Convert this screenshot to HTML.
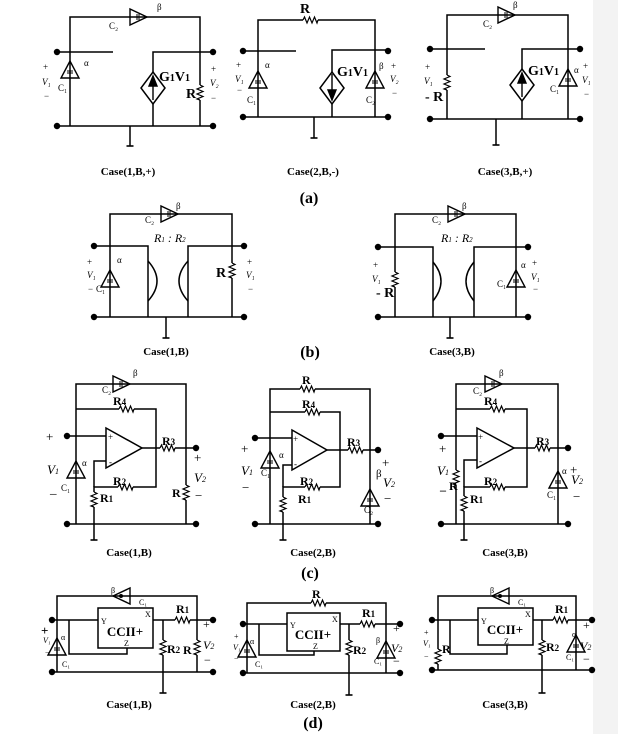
<!DOCTYPE html>
<html><head><meta charset="utf-8"><style>
html,body{margin:0;padding:0;background:#fff}
svg{display:block}
text{font-family:"Liberation Serif",serif;fill:#000}
.b{font-weight:bold}
</style></head><body>
<svg width="618" height="734" viewBox="0 0 618 734" xmlns="http://www.w3.org/2000/svg">
<defs>
<g id="rv"><rect x="-4" y="0" width="8" height="15" fill="#fff"/><polyline points="0,0 3,1.5 -3,4 3,6.5 -3,9 3,11.5 -3,14 0,15" fill="none" stroke="#000" stroke-width="1.2"/></g>
<g id="rh"><rect x="0" y="-4" width="15" height="8" fill="#fff"/><polyline points="0,0 1.5,-3 4,3 6.5,-3 9,3 11.5,-3 14,3 15,0" fill="none" stroke="#000" stroke-width="1.2"/></g>
<circle id="dot" r="3.2" fill="#000"/>
<g id="tu"><polygon points="0,0 -9,17 9,17" fill="none" stroke="#000" stroke-width="1.4"/><line x1="-3" y1="10" x2="3" y2="10" stroke="#000"/><line x1="-3" y1="12" x2="3" y2="12" stroke="#000"/></g>
<g id="tr"><polygon points="0,0 -17,-8 -17,8" fill="none" stroke="#000" stroke-width="1.4"/><line x1="-10" y1="-3" x2="-10" y2="3" stroke="#000"/><line x1="-8" y1="-3" x2="-8" y2="3" stroke="#000"/></g>
<g id="tl"><polygon points="0,0 17,-8 17,8" fill="none" stroke="#000" stroke-width="1.4"/><circle cx="8" cy="0" r="2" fill="#000"/></g>
<line id="gl" x1="-3.5" y1="0" x2="3.5" y2="0" stroke="#000" stroke-width="1.6"/>
</defs>
<rect x="593" y="0" width="25" height="734" fill="#f3f3f3"/>
<g stroke="#000" stroke-width="1.5" fill="none">
<polyline points="70,126 70,17 200,17 200,126"/>
<line x1="57" y1="52" x2="113" y2="52"/>
<polyline points="153,126 153,52 213,52"/>
<line x1="57" y1="126" x2="213" y2="126"/>
<line x1="130" y1="126" x2="130" y2="146"/>
<polygon points="153,72 165,88 153,104 141,88" fill="#fff"/>
<polyline points="258,117 258,20 375,20 375,117"/>
<line x1="243" y1="51" x2="296" y2="51"/>
<polyline points="332,117 332,50 388,50"/>
<line x1="243" y1="117" x2="388" y2="117"/>
<line x1="314" y1="117" x2="314" y2="138"/>
<polygon points="332,72 344,88 332,104 320,88" fill="#fff"/>
<polyline points="447,119 447,15 568,15 568,119"/>
<line x1="430" y1="49" x2="485" y2="49"/>
<polyline points="522,119 522,49 580,49"/>
<line x1="430" y1="119" x2="580" y2="119"/>
<line x1="496" y1="119" x2="496" y2="145"/>
<polygon points="522,69 534,85 522,101 510,85" fill="#fff"/>
<polyline points="110,317 110,214 232,214 232,317"/>
<polyline points="94,246 148,246 148,317"/>
<polyline points="244,246 188,246 188,317"/>
<line x1="94" y1="317" x2="244" y2="317"/>
<path d="M148,261 Q166,281 148,301"/>
<path d="M188,261 Q170,281 188,301"/>
<line x1="166" y1="317" x2="166" y2="338"/>
<polyline points="395,317 395,214 516,214 516,317"/>
<polyline points="378,247 433,247 433,317"/>
<polyline points="528,247 474,247 474,317"/>
<line x1="378" y1="317" x2="528" y2="317"/>
<path d="M433,262 Q449,281 433,301"/>
<path d="M474,262 Q458,281 474,301"/>
<line x1="450" y1="317" x2="450" y2="338"/>
<polyline points="76,524 76,384 186,384 186,524"/>
<polyline points="76,409 156,409 156,487 94,487 94,540"/>
<line x1="67" y1="436" x2="106" y2="436"/>
<polyline points="106,461 94,461 94,487"/>
<polygon points="106,428 142,448 106,468" fill="#fff"/>
<line x1="142" y1="448" x2="196" y2="448"/>
<line x1="67" y1="524" x2="196" y2="524"/>
<polyline points="270,524 270,389 370,389 370,524"/>
<polyline points="270,412 340,412 340,487 283,487 283,540"/>
<line x1="255" y1="438" x2="292" y2="438"/>
<polyline points="292,465 283,465 283,487"/>
<polygon points="292,430 327,450 292,470" fill="#fff"/>
<line x1="327" y1="450" x2="378" y2="450"/>
<line x1="255" y1="524" x2="378" y2="524"/>
<polyline points="456,524 456,384 558,384 558,524"/>
<polyline points="456,409 527,409 527,487 464,487 464,540"/>
<line x1="441" y1="436" x2="477" y2="436"/>
<polyline points="477,460 464,460 464,487"/>
<polygon points="477,428 514,448 477,468" fill="#fff"/>
<line x1="514" y1="448" x2="568" y2="448"/>
<line x1="441" y1="524" x2="568" y2="524"/>
<polyline points="57,672 57,596 197,596 197,672"/>
<rect x="98" y="608" width="55" height="40"/>
<line x1="52" y1="620" x2="98" y2="620"/>
<polyline points="69,620 69,654 127,654 127,648"/>
<line x1="153" y1="620" x2="213" y2="620"/>
<line x1="163" y1="620" x2="163" y2="693"/>
<line x1="52" y1="672" x2="213" y2="672"/>
<polyline points="247,673 247,603 386,603 386,673"/>
<rect x="287" y="613" width="53" height="38"/>
<line x1="243" y1="624" x2="287" y2="624"/>
<polyline points="259,624 259,655 314,655 314,651"/>
<line x1="340" y1="624" x2="400" y2="624"/>
<line x1="349" y1="624" x2="349" y2="695"/>
<line x1="243" y1="673" x2="400" y2="673"/>
<polyline points="438,670 438,596 576,596 576,670"/>
<rect x="478" y="608" width="55" height="37"/>
<line x1="432" y1="620" x2="478" y2="620"/>
<polyline points="450,620 450,654 507,654 507,645"/>
<line x1="533" y1="620" x2="592" y2="620"/>
<line x1="542" y1="620" x2="542" y2="693"/>
<line x1="432" y1="670" x2="592" y2="670"/>
</g>
<g fill="#000" stroke="#000" stroke-width="1.4">
<line x1="153" y1="80" x2="153" y2="100"/><polygon points="153,76 149,86 157,86"/>
<line x1="332" y1="74" x2="332" y2="94"/><polygon points="332,100 328,90 336,90"/>
<line x1="522" y1="75" x2="522" y2="97"/><polygon points="522,73 518,83 526,83"/>
</g>
<use href="#tr" x="147" y="17"/><use href="#tu" x="70" y="61"/><use href="#rv" x="200" y="85"/>
<use href="#rh" x="303" y="20"/><use href="#tu" x="258" y="71"/><use href="#tu" x="375" y="71"/>
<use href="#tr" x="515" y="15"/><use href="#rv" x="447" y="75"/><use href="#tu" x="568" y="69"/>
<use href="#tr" x="178" y="214"/><use href="#tu" x="110" y="270"/><use href="#rv" x="232" y="263"/>
<use href="#tr" x="465" y="214"/><use href="#rv" x="395" y="272"/><use href="#tu" x="516" y="270"/>
<use href="#tr" x="130" y="384"/><use href="#rh" x="119" y="409"/><use href="#rh" x="118" y="487"/><use href="#rv" x="94" y="492"/><use href="#rh" x="160" y="448"/><use href="#rv" x="186" y="485"/><use href="#tu" x="76" y="461"/>
<use href="#rh" x="300" y="389"/><use href="#rh" x="305" y="412"/><use href="#rh" x="305" y="487"/><use href="#rv" x="283" y="497"/><use href="#rh" x="348" y="450"/><use href="#tu" x="270" y="451"/><use href="#tu" x="370" y="489"/>
<use href="#tr" x="502" y="384"/><use href="#rh" x="490" y="409"/><use href="#rh" x="490" y="487"/><use href="#rv" x="464" y="496"/><use href="#rh" x="535" y="448"/><use href="#rv" x="456" y="470"/><use href="#tu" x="558" y="471"/>
<use href="#tl" x="113" y="596"/><use href="#rh" x="175" y="620"/><use href="#rv" x="163" y="640"/><use href="#rv" x="197" y="640"/><use href="#tu" x="57" y="638"/>
<use href="#rh" x="311" y="603"/><use href="#rh" x="360" y="624"/><use href="#rv" x="349" y="640"/><use href="#tu" x="247" y="640"/><use href="#tu" x="386" y="641"/>
<use href="#tl" x="492" y="596"/><use href="#rh" x="553" y="620"/><use href="#rv" x="542" y="640"/><use href="#rv" x="438" y="649"/><use href="#tu" x="576" y="635"/>
<use href="#gl" x="130" y="146"/><use href="#gl" x="314" y="138"/><use href="#gl" x="496" y="145"/><use href="#gl" x="166" y="338"/><use href="#gl" x="450" y="338"/><use href="#gl" x="94" y="540"/><use href="#gl" x="283" y="540"/><use href="#gl" x="464" y="540"/><use href="#gl" x="163" y="693"/><use href="#gl" x="349" y="695"/><use href="#gl" x="542" y="693"/>
<use href="#dot" x="57" y="52"/><use href="#dot" x="213" y="52"/><use href="#dot" x="57" y="126"/><use href="#dot" x="213" y="126"/>
<use href="#dot" x="243" y="51"/><use href="#dot" x="388" y="51"/><use href="#dot" x="243" y="117"/><use href="#dot" x="388" y="117"/>
<use href="#dot" x="430" y="49"/><use href="#dot" x="580" y="49"/><use href="#dot" x="430" y="119"/><use href="#dot" x="580" y="119"/>
<use href="#dot" x="94" y="246"/><use href="#dot" x="244" y="246"/><use href="#dot" x="94" y="317"/><use href="#dot" x="244" y="317"/>
<use href="#dot" x="378" y="247"/><use href="#dot" x="528" y="247"/><use href="#dot" x="378" y="317"/><use href="#dot" x="528" y="317"/>
<use href="#dot" x="67" y="436"/><use href="#dot" x="196" y="448"/><use href="#dot" x="67" y="524"/><use href="#dot" x="196" y="524"/>
<use href="#dot" x="255" y="438"/><use href="#dot" x="378" y="450"/><use href="#dot" x="255" y="524"/><use href="#dot" x="378" y="524"/>
<use href="#dot" x="441" y="436"/><use href="#dot" x="568" y="448"/><use href="#dot" x="441" y="524"/><use href="#dot" x="568" y="524"/>
<use href="#dot" x="52" y="620"/><use href="#dot" x="213" y="620"/><use href="#dot" x="52" y="672"/><use href="#dot" x="213" y="672"/>
<use href="#dot" x="243" y="624"/><use href="#dot" x="400" y="624"/><use href="#dot" x="243" y="673"/><use href="#dot" x="400" y="673"/>
<use href="#dot" x="432" y="620"/><use href="#dot" x="592" y="620"/><use href="#dot" x="432" y="670"/><use href="#dot" x="592" y="670"/>
<g font-size="9">
<text x="157" y="10">β</text><text x="109" y="29">C₂</text><text x="84" y="66">α</text><text x="58" y="91">C₁</text>
<text x="43" y="70">+</text><text x="42" y="85" font-style="italic">V₁</text><text x="44" y="99">−</text>
<text x="211" y="72">+</text><text x="210" y="86" font-style="italic">V₂</text><text x="211" y="101">−</text>
<text x="265" y="68">α</text><text x="247" y="103">C₁</text><text x="379" y="69">β</text><text x="366" y="103">C₂</text>
<text x="236" y="68">+</text><text x="235" y="82" font-style="italic">V₁</text><text x="237" y="93">−</text>
<text x="391" y="69">+</text><text x="390" y="82" font-style="italic">V₂</text><text x="392" y="96">−</text>
<text x="513" y="8">β</text><text x="483" y="27">C₂</text><text x="574" y="73">α</text><text x="550" y="92">C₁</text>
<text x="425" y="70">+</text><text x="424" y="84" font-style="italic">V₁</text>
<text x="583" y="69">+</text><text x="582" y="83" font-style="italic">V₁</text><text x="584" y="97">−</text>
</g>
<g font-size="14" class="b">
<text x="159" y="81" class="b">G<tspan font-size="10">1</tspan>V<tspan font-size="10">1</tspan></text>
<text x="186" y="98" class="b">R</text>
<text x="300" y="13" class="b">R</text>
<text x="337" y="76" class="b">G<tspan font-size="10">1</tspan>V<tspan font-size="10">1</tspan></text>
<text x="528" y="75" class="b">G<tspan font-size="10">1</tspan>V<tspan font-size="10">1</tspan></text>
<text x="425" y="101" class="b">- R</text>
</g>
<g font-size="11" class="b" text-anchor="middle">
<text x="128" y="175">Case(1,B,+)</text><text x="313" y="175">Case(2,B,-)</text><text x="505" y="175">Case(3,B,+)</text>
<text x="166" y="355">Case(1,B)</text><text x="452" y="355">Case(3,B)</text>
<text x="129" y="556">Case(1,B)</text><text x="313" y="556">Case(2,B)</text><text x="505" y="556">Case(3,B)</text>
<text x="129" y="708">Case(1,B)</text><text x="313" y="708">Case(2,B)</text><text x="505" y="708">Case(3,B)</text>
</g>
<g font-size="16" class="b" text-anchor="middle">
<text x="309" y="203">(a)</text><text x="310" y="357">(b)</text><text x="310" y="578">(c)</text><text x="313" y="728">(d)</text>
</g>
<g font-size="9">
<text x="176" y="209">β</text><text x="145" y="223">C₂</text><text x="117" y="263">α</text><text x="96" y="292">C₁</text>
<text x="87" y="265">+</text><text x="87" y="278" font-style="italic">V₁</text><text x="88" y="292">−</text>
<text x="247" y="265">+</text><text x="246" y="278" font-style="italic">V₁</text><text x="248" y="292">−</text>
<text x="462" y="209">β</text><text x="432" y="223">C₂</text><text x="521" y="268">α</text><text x="497" y="287">C₁</text>
<text x="373" y="268">+</text><text x="372" y="282" font-style="italic">V₁</text>
<text x="532" y="266">+</text><text x="531" y="280" font-style="italic">V₁</text><text x="533" y="292">−</text>
</g>
<g font-size="12" font-style="italic"><text x="154" y="242">R<tspan font-size="7">1</tspan> : R<tspan font-size="7">2</tspan></text><text x="441" y="242">R<tspan font-size="7">1</tspan> : R<tspan font-size="7">2</tspan></text></g>
<g font-size="14" class="b"><text x="216" y="277">R</text><text x="376" y="297">- R</text></g>
<g font-size="9">
<text x="133" y="376">β</text><text x="102" y="393">C₂</text><text x="82" y="466">α</text><text x="61" y="491">C₁</text>
<text x="364" y="513">C₂</text><text x="279" y="458">α</text><text x="261" y="476">C₁</text>
<text x="499" y="376">β</text><text x="473" y="394">C₂</text><text x="562" y="474">α</text><text x="547" y="498">C₁</text>
<text x="108" y="440">+</text><text x="109" y="465">-</text><text x="293" y="442">+</text><text x="294" y="467">-</text><text x="478" y="440">+</text><text x="479" y="464">-</text>
<text x="376" y="477" font-size="11">β</text>
</g>
<g font-size="12" class="b">
<text x="113" y="405">R<tspan font-size="9">4</tspan></text><text x="113" y="485">R<tspan font-size="9">2</tspan></text><text x="100" y="502">R<tspan font-size="9">1</tspan></text><text x="162" y="445">R<tspan font-size="9">3</tspan></text><text x="172" y="497">R</text>
<text x="302" y="384">R</text><text x="302" y="408">R<tspan font-size="9">4</tspan></text><text x="300" y="485">R<tspan font-size="9">2</tspan></text><text x="298" y="503">R<tspan font-size="9">1</tspan></text><text x="347" y="446">R<tspan font-size="9">3</tspan></text>
<text x="484" y="405">R<tspan font-size="9">4</tspan></text><text x="484" y="485">R<tspan font-size="9">2</tspan></text><text x="470" y="503">R<tspan font-size="9">1</tspan></text><text x="536" y="445">R<tspan font-size="9">3</tspan></text><text x="440" y="490">_ R</text>
</g>
<g font-size="13">
<text x="46" y="441">+</text><text x="47" y="474" font-style="italic">V<tspan font-size="8">1</tspan></text><text x="50" y="493">_</text>
<text x="194" y="462">+</text><text x="194" y="482" font-style="italic">V<tspan font-size="8">2</tspan></text><text x="195" y="500">−</text>
<text x="241" y="453">+</text><text x="241" y="475" font-style="italic">V<tspan font-size="8">1</tspan></text><text x="242" y="492">−</text>
<text x="382" y="467">+</text><text x="383" y="487" font-style="italic">V<tspan font-size="8">2</tspan></text><text x="384" y="503">−</text>
<text x="439" y="453">+</text><text x="437" y="475" font-style="italic">V<tspan font-size="8">1</tspan></text>
<text x="570" y="474">+</text><text x="571" y="484" font-style="italic">V<tspan font-size="8">2</tspan></text><text x="573" y="501">−</text>
</g>
<g font-size="8">
<text x="101" y="624">Y</text><text x="145" y="617">X</text><text x="124" y="646">Z</text>
<text x="290" y="628">Y</text><text x="332" y="622">X</text><text x="313" y="649">Z</text>
<text x="481" y="624">Y</text><text x="525" y="617">X</text><text x="504" y="644">Z</text>
<text x="111" y="593">β</text><text x="139" y="605">C₁</text><text x="61" y="640">α</text><text x="62" y="667">C₁</text>
<text x="250" y="644">α</text><text x="255" y="667">C₁</text><text x="376" y="643">β</text><text x="374" y="664">C₁</text>
<text x="490" y="593">β</text><text x="518" y="605">C₁</text><text x="572" y="637">α</text><text x="566" y="660">C₁</text>
<text x="43" y="643" font-style="italic">V₁</text><text x="45" y="655">−</text>
<text x="234" y="639">+</text><text x="233" y="650" font-style="italic">V₁</text><text x="234" y="661">−</text>
<text x="424" y="635">+</text><text x="423" y="646" font-style="italic">V₁</text><text x="424" y="659">−</text>
</g>
<g font-size="13" class="b"><text x="41" y="635">+</text></g>
<g font-size="13" class="b" text-anchor="middle"><text x="125" y="636">CCII+</text><text x="313" y="639">CCII+</text><text x="505" y="634">CCII+</text></g>
<g font-size="12" class="b">
<text x="176" y="613">R<tspan font-size="9">1</tspan></text><text x="167" y="653">R<tspan font-size="9">2</tspan></text><text x="183" y="654">R</text>
<text x="312" y="598">R</text><text x="362" y="617">R<tspan font-size="9">1</tspan></text><text x="353" y="654">R<tspan font-size="9">2</tspan></text>
<text x="555" y="613">R<tspan font-size="9">1</tspan></text><text x="546" y="651">R<tspan font-size="9">2</tspan></text><text x="442" y="653">R</text>
</g>
<g font-size="12">
<text x="203" y="628">+</text><text x="203" y="649" font-style="italic">V<tspan font-size="8">2</tspan></text><text x="204" y="664">−</text>
<text x="393" y="632">+</text><text x="391" y="652" font-style="italic">V<tspan font-size="8">2</tspan></text><text x="393" y="665">−</text>
<text x="583" y="629">+</text><text x="580" y="650" font-style="italic">V<tspan font-size="8">2</tspan></text><text x="583" y="663">−</text>
</g>
</svg>
</body></html>
